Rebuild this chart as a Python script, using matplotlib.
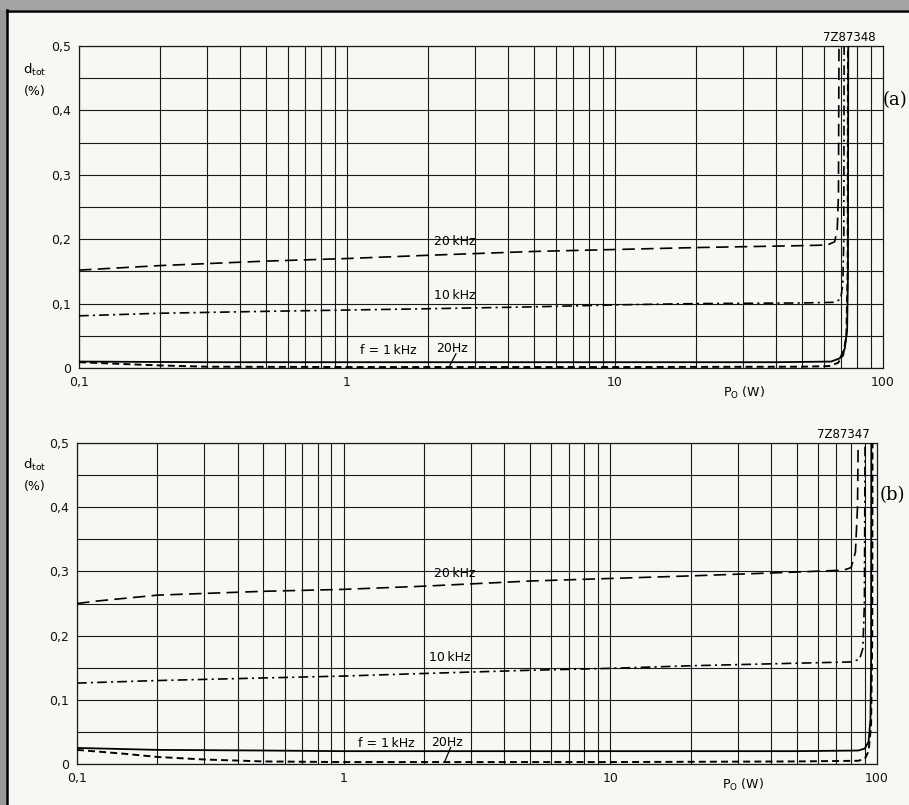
import matplotlib
matplotlib.use("Agg")
import matplotlib.pyplot as plt
from matplotlib.patches import Rectangle
from matplotlib.lines import Line2D

plt.rcParams["font.family"] = ["DejaVu Sans"]
plt.rcParams["lines.scale_dashes"] = False

# ---- data (P_o in W, d_tot in %) ----
# panel (a)
p_20k_a = [0.1, 0.2, 0.5, 1, 2, 5, 10, 20, 50, 62, 66, 67.5, 68.2, 68.5]
d_20k_a = [0.152, 0.159, 0.166, 0.170, 0.175, 0.181, 0.184, 0.187, 0.190, 0.191, 0.196, 0.215, 0.27, 0.50]

p_10k_a = [0.1, 0.2, 0.5, 1, 2, 5, 10, 20, 50, 66, 69.5, 70.8, 71.4, 71.6]
d_10k_a = [0.081, 0.085, 0.088, 0.090, 0.092, 0.095, 0.098, 0.100, 0.101, 0.102, 0.107, 0.13, 0.20, 0.50]

p_1k_a = [0.1, 0.3, 1, 10, 40, 64, 69, 72, 73.5, 74.0, 74.2]
d_1k_a = [0.010, 0.009, 0.009, 0.009, 0.009, 0.010, 0.015, 0.030, 0.060, 0.15, 0.50]

p_20hz_a = [0.1, 0.15, 0.2, 0.3, 1, 10, 50, 63, 68, 71, 73, 73.8, 74.0]
d_20hz_a = [0.009, 0.006, 0.004, 0.002, 0.0015, 0.0015, 0.002, 0.003, 0.008, 0.020, 0.050, 0.15, 0.50]

# panel (b)
p_20k_b = [0.1, 0.12, 0.2, 0.5, 1, 2, 5, 10, 20, 50, 75, 80, 83, 84.5, 85]
d_20k_b = [0.250, 0.254, 0.263, 0.269, 0.272, 0.277, 0.285, 0.289, 0.293, 0.299, 0.302, 0.306, 0.33, 0.40, 0.50]

p_10k_b = [0.1, 0.2, 0.5, 1, 2, 5, 10, 20, 50, 80, 86, 88.5, 89.7, 90.2]
d_10k_b = [0.126, 0.130, 0.134, 0.137, 0.141, 0.146, 0.149, 0.153, 0.157, 0.159, 0.163, 0.18, 0.25, 0.50]

p_1k_b = [0.1, 0.2, 0.5, 1, 10, 50, 85, 90, 93, 94.5, 95, 95.2]
d_1k_b = [0.025, 0.022, 0.021, 0.020, 0.020, 0.020, 0.021, 0.024, 0.035, 0.07, 0.15, 0.50]

p_20hz_b = [0.1, 0.15, 0.2, 0.3, 0.5, 1, 10, 50, 85, 90, 93, 95, 96, 96.2]
d_20hz_b = [0.022, 0.016, 0.011, 0.007, 0.004, 0.003, 0.003, 0.004, 0.005, 0.008, 0.020, 0.06, 0.20, 0.50]

x_ticks = [0.1, 1, 10, 100]
x_tick_labels = ["0,1", "1", "10", "100"]
y_ticks = [0, 0.1, 0.2, 0.3, 0.4, 0.5]
y_tick_labels = ["0", "0,1", "0,2", "0,3", "0,4", "0,5"]

DASH_20K = (0, (9, 4.5))
DASH_10K = (0, (7, 3, 1.5, 3))
DASH_20HZ = (0, (5, 3))


def draw_panel(ax, curves, code, labels):
    ax.set_xscale("log")
    ax.set_xlim(0.1, 100)
    ax.set_ylim(0, 0.5)

    # log paper grid
    for dec in (0.1, 1, 10):
        for m in range(1, 10):
            ax.axvline(dec * m, color="#1a1a1a", lw=0.8, zorder=1)
    for yv in [0.05 * i for i in range(11)]:
        ax.axhline(yv, color="#1a1a1a", lw=0.8, zorder=1)

    for (px, py, ls, lw) in curves:
        ax.plot(px, py, color="black", lw=lw, linestyle=ls, zorder=3,
                solid_capstyle="butt", dash_capstyle="butt")

    ax.set_xticks(x_ticks)
    ax.set_xticklabels(x_tick_labels)
    ax.set_yticks(y_ticks)
    ax.set_yticklabels(y_tick_labels)
    ax.minorticks_off()
    ax.tick_params(length=0, labelsize=9, pad=6, colors="#111111")
    for s in ax.spines.values():
        s.set_color("#1a1a1a")
        s.set_linewidth(0.9)
    ax.set_facecolor("none")

    # drawing code number above the top-right corner
    ax.text(0.925, 1.005, code, transform=ax.transAxes, fontsize=8.5,
            ha="left", va="bottom")
    for (x, y, s) in labels:
        ax.text(x, y, s, fontsize=9, ha="center", va="center", zorder=4)


fig = plt.figure(figsize=(9.09, 8.05), dpi=100)
fig.patch.set_facecolor("#f7f7f4")

# scanned page frame: grey strip left / top and black border
fig.patches.append(Rectangle((0, 0), 7 / 909, 1, transform=fig.transFigure,
                             facecolor="#9a9a9a", edgecolor="none", zorder=0))
fig.patches.append(Rectangle((0, 1 - 10 / 805), 1, 10 / 805, transform=fig.transFigure,
                             facecolor="#a5a5a5", edgecolor="none", zorder=0))
fig.lines.append(Line2D([7.5 / 909, 7.5 / 909], [0, 1 - 10.5 / 805],
                        transform=fig.transFigure, color="black", lw=1.8))
fig.lines.append(Line2D([7.5 / 909, 1], [1 - 11 / 805, 1 - 11 / 805],
                        transform=fig.transFigure, color="black", lw=1.8))

ax_a = fig.add_axes([79 / 909, 1 - 368 / 805, 804 / 909, 322 / 805])
ax_b = fig.add_axes([77 / 909, 1 - 764 / 805, 800 / 909, 321 / 805])

curves_a = [
    (p_20k_a, d_20k_a, DASH_20K, 1.2),
    (p_10k_a, d_10k_a, DASH_10K, 1.2),
    (p_1k_a, d_1k_a, "-", 1.3),
    (p_20hz_a, d_20hz_a, DASH_20HZ, 1.4),
]
curves_b = [
    (p_20k_b, d_20k_b, DASH_20K, 1.2),
    (p_10k_b, d_10k_b, DASH_10K, 1.2),
    (p_1k_b, d_1k_b, "-", 1.3),
    (p_20hz_b, d_20hz_b, DASH_20HZ, 1.4),
]

labels_a = [(2.53, 0.196, "20\u2009kHz"), (2.53, 0.112, "10\u2009kHz"),
            (1.42, 0.027, "f = 1\u2009kHz"), (2.47, 0.030, "20Hz")]
labels_b = [(2.6, 0.297, "20\u2009kHz"), (2.5, 0.166, "10\u2009kHz"),
            (1.45, 0.032, "f = 1\u2009kHz"), (2.45, 0.034, "20Hz")]

draw_panel(ax_a, curves_a, "7Z87348", labels_a)
draw_panel(ax_b, curves_b, "7Z87347", labels_b)

# leader lines from "20Hz" to its curve
ax_a.plot([2.55, 2.42], [0.022, 0.004], color="black", lw=0.9, zorder=4)
ax_b.plot([2.52, 2.40], [0.026, 0.005], color="black", lw=0.9, zorder=4)

# panel tags in serif
fig.text(883 / 909, 1 - 100 / 805, "(a)", family="DejaVu Serif", fontsize=13,
         ha="left", va="center")
fig.text(880 / 909, 1 - 495 / 805, "(b)", family="DejaVu Serif", fontsize=13,
         ha="left", va="center")

# y-axis quantity
for ytop in (70, 465):
    fig.text(35 / 909, 1 - ytop / 805, "d$_{\\mathregular{tot}}$", fontsize=9.5,
             ha="center", va="center")
    fig.text(35 / 909, 1 - (ytop + 21) / 805, "(%)", fontsize=9,
             ha="center", va="center")

# x-axis quantity
fig.text(744 / 909, 1 - 393 / 805, "P$_{\\mathregular{O}}$ (W)", fontsize=9,
         ha="center", va="center")
fig.text(743 / 909, 1 - 785 / 805, "P$_{\\mathregular{O}}$ (W)", fontsize=9,
         ha="center", va="center")

fig.savefig("out.png", dpi=100, facecolor=fig.get_facecolor())
